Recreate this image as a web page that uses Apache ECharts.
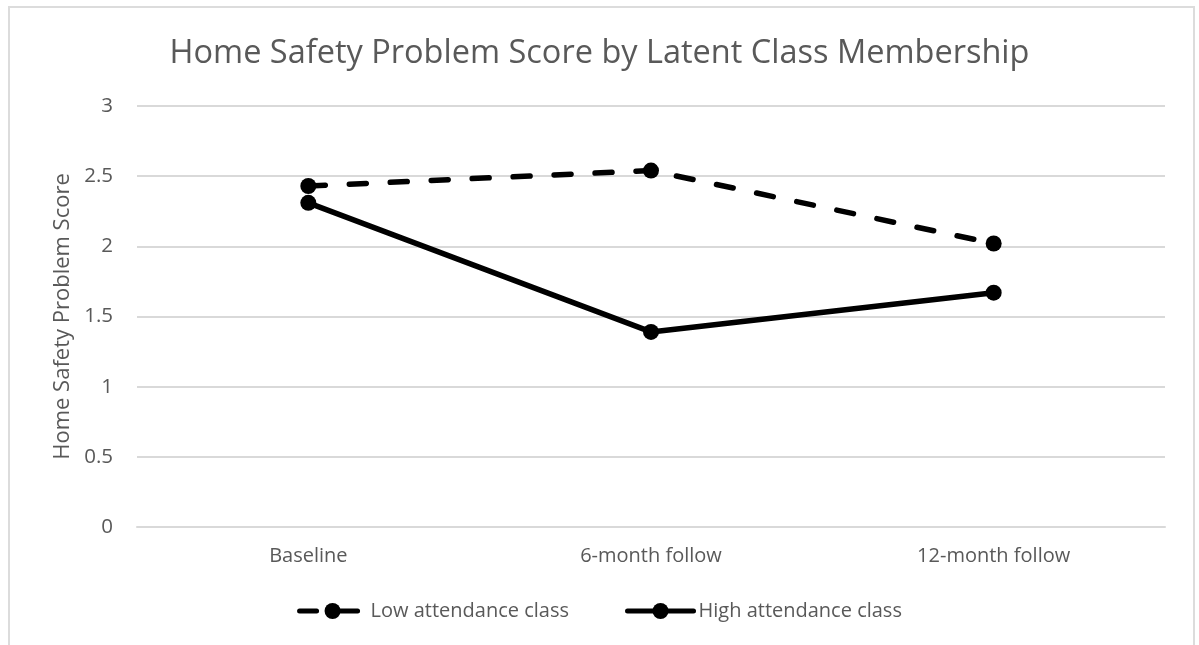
<!DOCTYPE html>
<html><head><meta charset="utf-8">
<script src="https://cdn.jsdelivr.net/npm/echarts@6/dist/echarts.min.js"></script>
<style>
html,body{margin:0;padding:0;background:#fff;}
#frame{position:absolute;left:8px;top:6px;width:1187px;height:660px;border:2px solid #dcdcdc;box-sizing:border-box;}
#chart{position:absolute;left:0;top:0;width:1199px;height:645px;}
</style></head>
<body><div id="frame"></div><div id="chart"></div>
<script>
const categories = ['Baseline', '6-month follow', '12-month follow'];
const lowAttendance = [2.43, 2.54, 2.02];
const highAttendance = [2.31, 1.39, 1.67];
const seriesNames = ['Low attendance class', 'High attendance class'];
const yTicks = [0, 0.5, 1, 1.5, 2, 2.5, 3];

const font = "'Open Sans', 'Liberation Sans', sans-serif";
const chart = echarts.init(document.getElementById('chart'));
chart.setOption({
  animation: false,
  title: {
    text: 'Home Safety Problem Score by Latent Class Membership',
    left: 'center', top: 32,
    textStyle: {fontFamily: font, fontSize: 32.5, fontWeight: 'normal', color: '#595959'}
  },
  grid: {left: 137, right: 34, top: 106, bottom: 118},
  legend: {
    bottom: 19, left: 'center', itemWidth: 66, itemHeight: 20, itemGap: 56,
    textStyle: {fontFamily: font, fontSize: 20, color: '#595959'},
    lineStyle: {width: 5},
    data: seriesNames
  },
  xAxis: {
    type: 'category', data: categories, boundaryGap: true,
    axisLine: {lineStyle: {color: '#d9d9d9', width: 2}},
    axisTick: {show: false},
    axisLabel: {fontFamily: font, fontSize: 20, color: '#595959', margin: 19}
  },
  yAxis: {
    type: 'value', min: 0, max: 3, interval: 0.5,
    name: 'Home Safety Problem Score', nameLocation: 'middle', nameGap: 63,
    nameTextStyle: {fontFamily: font, fontSize: 22, color: '#595959'},
    axisLine: {show: false}, axisTick: {show: false},
    axisLabel: {fontFamily: font, fontSize: 20.5, color: '#595959', margin: 24,
      formatter: v => yTicks.includes(v) ? String(v) : ''},
    splitLine: {lineStyle: {color: '#d9d9d9', width: 2}}
  },
  series: [
    {name: seriesNames[0], type: 'line', data: lowAttendance, symbol: 'circle', symbolSize: 16,
     itemStyle: {color: '#000'}, lineStyle: {color: '#000', width: 5.5, type: [17, 24], cap: 'round'}},
    {name: seriesNames[1], type: 'line', data: highAttendance, symbol: 'circle', symbolSize: 16,
     itemStyle: {color: '#000'}, lineStyle: {color: '#000', width: 5.5, type: 'solid', cap: 'round'}}
  ]
});
</script></body></html>
